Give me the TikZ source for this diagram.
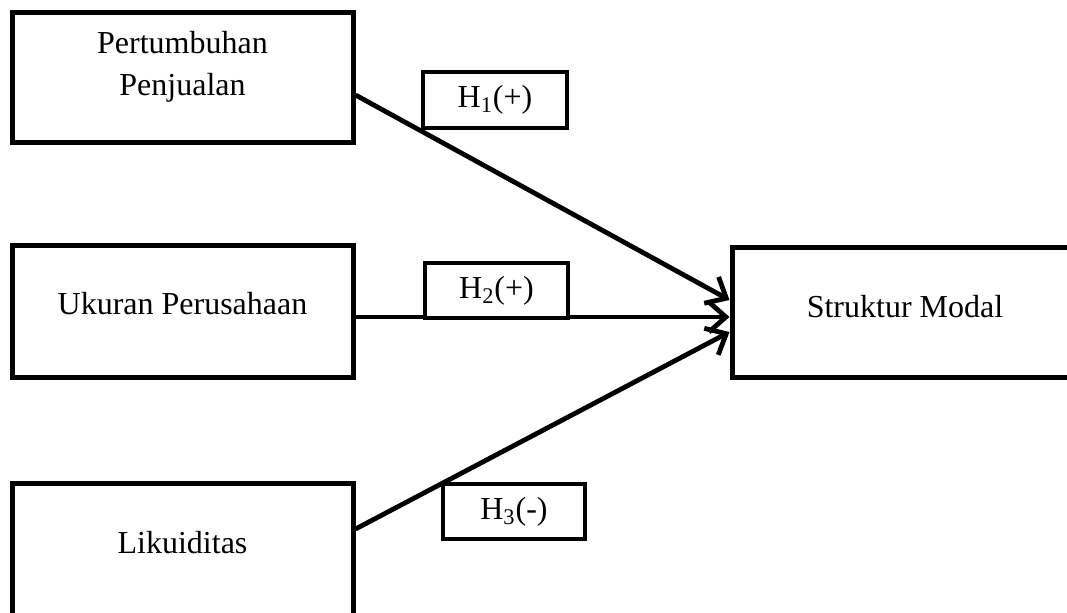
\documentclass[tikz,border=0pt]{standalone}
\usepackage{fontspec}
\setmainfont{Liberation Serif}
\usetikzlibrary{positioning, arrows.meta, calc}

\begin{document}
\begin{tikzpicture}[
  x=0.5pt, y=-0.5pt,
  font=\fontsize{16}{21}\selectfont,
  var/.style={
    draw, line width=2.5pt, align=center, inner sep=0pt,
    minimum width=170.5pt, text height=12pt, text depth=9pt
  },
  hyp/.style={
    draw, line width=2pt, fill=white, inner sep=0pt,
    minimum width=71.5pt, minimum height=27.5pt
  },
  arrow/.style={-{Straight Barb[length=8.5pt,width=15pt,line width=2.4pt]}, line width=2.4pt}
]
\useasboundingbox (0,0) rectangle (1067,612);

\node[var, minimum height=65pt, text height=24pt, text depth=6pt] (pp) at (182.5,77) {Pertumbuhan\\Penjualan};
\node[var, minimum height=66pt] (up) at (182.5,311) {Ukuran Perusahaan};
\node[var, minimum height=67pt] (lk) at (182.5,550) {Likuiditas};
\node[var, minimum width=173pt, minimum height=65pt, text depth=7pt] (sm) at (905,312) {Struktur Modal};

\draw[arrow] ($(pp.east)+(0,18)$) -- ($(sm.west)+(0,-12)$);
\draw[arrow] ($(up.east)+(0,6)$) -- ($(sm.west)+(0,5)$);
\draw[arrow] ($(lk.east)+(0,-21)$) -- ($(sm.west)+(0,20)$);

\node[hyp, minimum width=72pt, minimum height=28pt] (h1) at (495,100) {H\textsubscript{1}(+)};
\node[hyp] (h2) at (496.5,290.5) {H\textsubscript{2}(+)};
\node[hyp, minimum width=71pt] (h3) at (514,511.5) {H\textsubscript{3}(-)};
\end{tikzpicture}
\end{document}
